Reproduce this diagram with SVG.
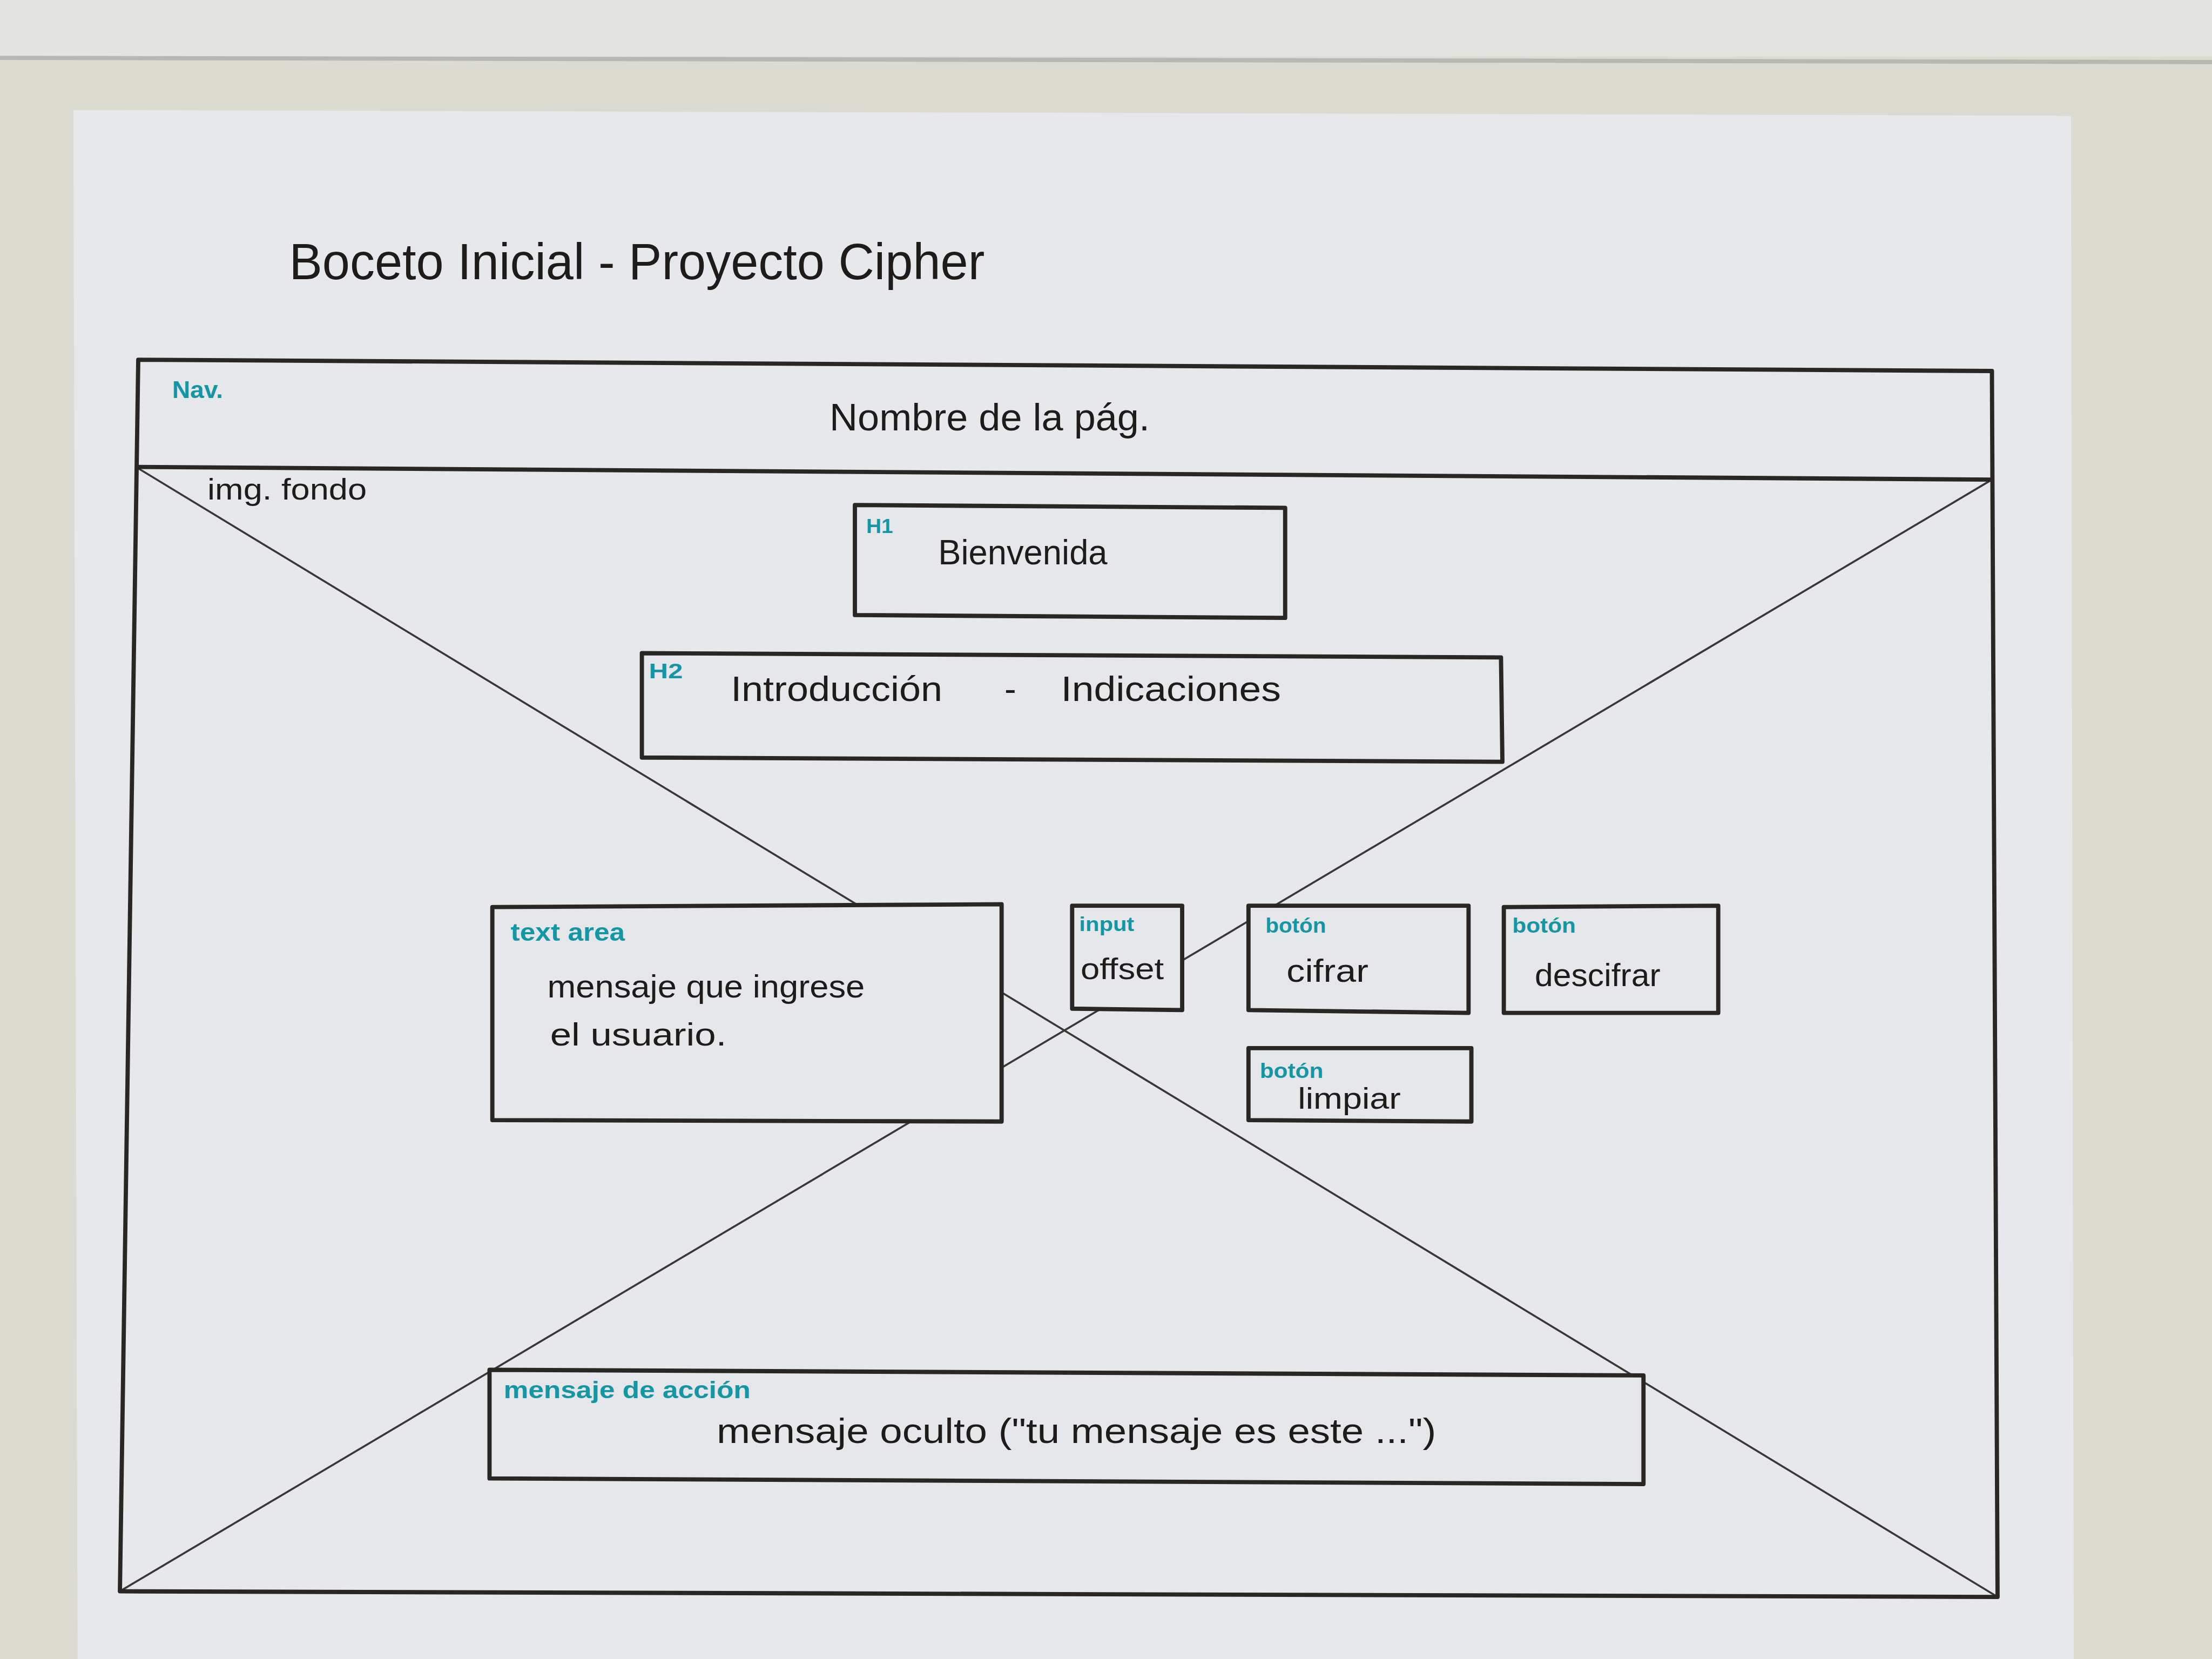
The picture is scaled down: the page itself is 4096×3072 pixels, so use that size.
<svg xmlns="http://www.w3.org/2000/svg" width="4096" height="3072" viewBox="0 0 4096 3072">
<style>
.box{fill:#e5e7eb;stroke:#2a2624;stroke-width:3;stroke-linejoin:round}
.frame{fill:none;stroke:#2a2624;stroke-width:3;stroke-linejoin:round}
.diag{fill:none;stroke:#3a3836;stroke-width:1.4}
.hw{font-family:"Liberation Sans","DejaVu Sans",sans-serif;fill:#1e1b1a}
.tag{font-family:"Liberation Sans","DejaVu Sans",sans-serif;fill:#1596a4;font-weight:bold}
</style>
<g transform="scale(2.612245)">
  <g id="background">
    <rect x="0" y="0" width="1568" height="1176" fill="#dcdbd2"/>
    <rect x="0" y="0" width="1568" height="40" fill="#e4e4e0"/>
    <line x1="0" y1="41" x2="1568" y2="44" stroke="#b8b8b2" stroke-width="3"/>
    <polygon points="52,78 1468,82 1470,1176 55,1176" fill="#e6e8ec"/>
  </g>
  <g id="title">
    <text class="hw" x="205" y="198" font-size="36" textLength="493" lengthAdjust="spacingAndGlyphs">Boceto Inicial - Proyecto Cipher</text>
  </g>
  <g id="connectors">
    <line class="diag" x1="98" y1="332" x2="1416" y2="1132"/>
    <line class="diag" x1="1412" y1="340" x2="85" y2="1128"/>
  </g>
  <g id="frame">
    <polygon class="frame" points="98,255 1412,263 1416,1132 85,1128"/>
  </g>
  <g id="nav">
    <line class="frame" x1="96" y1="331" x2="1412" y2="340"/>
    <text class="tag" x="122" y="282" font-size="17" textLength="36" lengthAdjust="spacingAndGlyphs">Nav.</text>
    <text class="hw" x="588" y="305" font-size="27" textLength="227" lengthAdjust="spacingAndGlyphs">Nombre de la pág.</text>
  </g>
  <g id="img-fondo">
    <text class="hw" x="147" y="354" font-size="21" textLength="113" lengthAdjust="spacingAndGlyphs">img. fondo</text>
  </g>
  <g id="h1">
    <polygon class="box" points="606,358 911,360 911,438 606,436"/>
    <text class="tag" x="614" y="378" font-size="14" textLength="19" lengthAdjust="spacingAndGlyphs">H1</text>
    <text class="hw" x="665" y="400" font-size="25" textLength="120" lengthAdjust="spacingAndGlyphs">Bienvenida</text>
  </g>
  <g id="h2">
    <polygon class="box" points="455,463 1064,466 1065,540 455,537"/>
    <text class="tag" x="460" y="481" font-size="15" textLength="24" lengthAdjust="spacingAndGlyphs">H2</text>
    <text class="hw" x="518" y="497" font-size="25" textLength="150" lengthAdjust="spacingAndGlyphs">Introducción</text>
    <text class="hw" x="712" y="497" font-size="25">-</text>
    <text class="hw" x="752" y="497" font-size="25" textLength="156" lengthAdjust="spacingAndGlyphs">Indicaciones</text>
  </g>
  <g id="text-area">
    <polygon class="box" points="349,643 710,641 710,795 349,794"/>
    <text class="tag" x="362" y="667" font-size="18" textLength="81" lengthAdjust="spacingAndGlyphs">text area</text>
    <text class="hw" x="388" y="707" font-size="23" textLength="225" lengthAdjust="spacingAndGlyphs">mensaje que ingrese</text>
    <text class="hw" x="390" y="741" font-size="23" textLength="125" lengthAdjust="spacingAndGlyphs">el usuario.</text>
  </g>
  <g id="input-offset">
    <polygon class="box" points="760,642 838,642 838,716 760,715"/>
    <text class="tag" x="765" y="660" font-size="14" textLength="39" lengthAdjust="spacingAndGlyphs">input</text>
    <text class="hw" x="766" y="694" font-size="21" textLength="59" lengthAdjust="spacingAndGlyphs">offset</text>
  </g>
  <g id="boton-cifrar">
    <polygon class="box" points="885,642 1041,642 1041,718 885,716"/>
    <text class="tag" x="897" y="661" font-size="15" textLength="43" lengthAdjust="spacingAndGlyphs">botón</text>
    <text class="hw" x="912" y="696" font-size="23" textLength="58" lengthAdjust="spacingAndGlyphs">cifrar</text>
  </g>
  <g id="boton-descifrar">
    <polygon class="box" points="1066,643 1218,642 1218,718 1066,718"/>
    <text class="tag" x="1072" y="661" font-size="15" textLength="45" lengthAdjust="spacingAndGlyphs">botón</text>
    <text class="hw" x="1088" y="699" font-size="23" textLength="89" lengthAdjust="spacingAndGlyphs">descifrar</text>
  </g>
  <g id="boton-limpiar">
    <polygon class="box" points="885,743 1043,743 1043,795 885,794"/>
    <text class="tag" x="893" y="764" font-size="15" textLength="45" lengthAdjust="spacingAndGlyphs">botón</text>
    <text class="hw" x="920" y="786" font-size="21" textLength="73" lengthAdjust="spacingAndGlyphs">limpiar</text>
  </g>
  <g id="mensaje-accion">
    <polygon class="box" points="347,971 1165,975 1165,1052 347,1048"/>
    <text class="tag" x="357" y="991" font-size="17" textLength="175" lengthAdjust="spacingAndGlyphs">mensaje de acción</text>
    <text class="hw" x="508" y="1023" font-size="25" textLength="510" lengthAdjust="spacingAndGlyphs">mensaje oculto ("tu mensaje es este ...")</text>
  </g>
</g>
</svg>
